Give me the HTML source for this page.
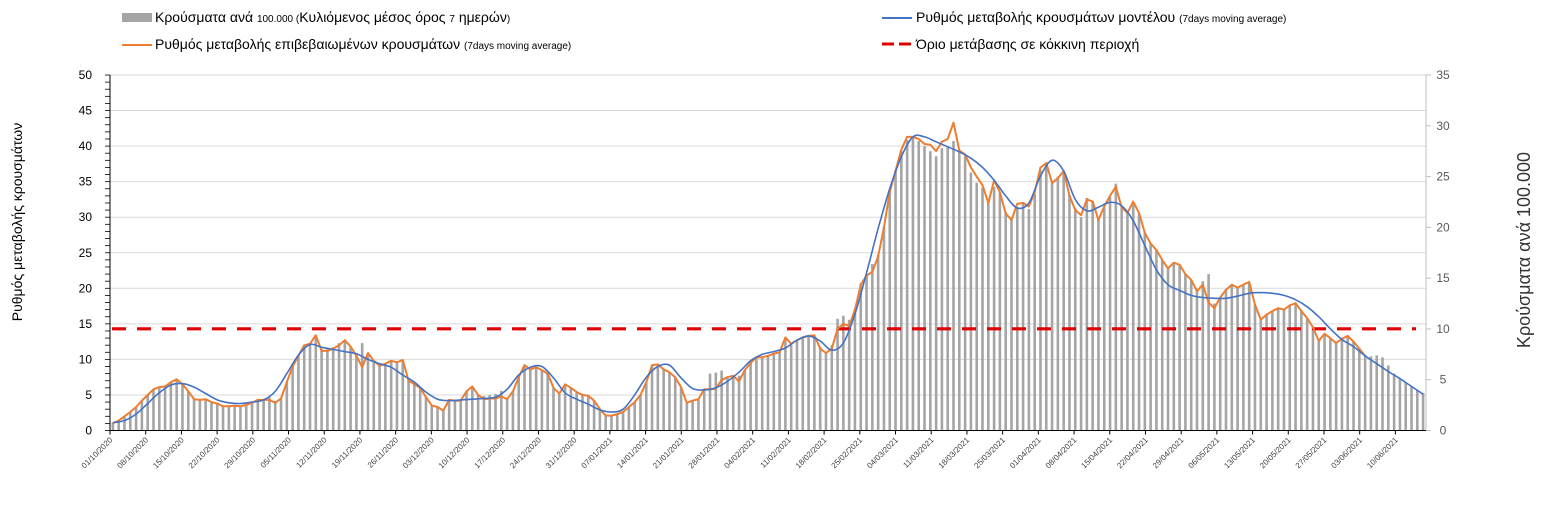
<!DOCTYPE html>
<html><head><meta charset="utf-8">
<style>
html,body{margin:0;padding:0;background:#fff;}
body{width:1547px;height:515px;overflow:hidden;font-family:"Liberation Sans Narrow","Liberation Sans","Noto Sans CJK SC",sans-serif;}
svg{display:block}
</style></head>
<body>
<svg id="chart" width="1547" height="515" viewBox="0 0 1547 515">
  <g id="legend" font-size="14" fill="#000">
    <g>
      <rect x="122" y="13" width="30" height="9" fill="#A5A5A5"/>
      <text x="155" y="22">Κρούσματα ανά <tspan font-size="10">100.000 (</tspan>Κυλιόμενος μέσος όρος <tspan font-size="10">7</tspan> ημερών<tspan font-size="10">)</tspan></text>
    </g>
    <g>
      <line x1="122" y1="45" x2="152" y2="45" stroke="#ED7D31" stroke-width="2"/>
      <text x="155" y="49">Ρυθμός μεταβολής επιβεβαιωμένων κρουσμάτων <tspan font-size="10">(7days moving average)</tspan></text>
    </g>
    <g>
      <line x1="882" y1="18" x2="912" y2="18" stroke="#4472C4" stroke-width="2"/>
      <text x="916" y="22">Ρυθμός μεταβολής κρουσμάτων μοντέλου <tspan font-size="10">(7days moving average)</tspan></text>
    </g>
    <g>
      <line x1="882" y1="44" x2="914" y2="44" stroke="#E00000" stroke-width="3" stroke-dasharray="12,5"/>
      <text x="916" y="49">Όριο μετάβασης σε κόκκινη περιοχή</text>
    </g>
  </g>
  <text transform="translate(22,222) rotate(-90)" text-anchor="middle" font-size="14" fill="#000">Ρυθμός μεταβολής κρουσμάτων</text>
  <text transform="translate(1530,250) rotate(-90)" text-anchor="middle" font-size="18" fill="#333" font-family="Liberation Sans, sans-serif">Κρούσματα ανά 100.000</text>
  <g id="grid"></g>
  <g id="bars"></g>
  <g id="lines"></g>
  <g id="axes"></g>
</svg>
<script>
const categoryCount = 227;
const tickLabels = ["01/10/2020","08/10/2020","15/10/2020","22/10/2020","29/10/2020","05/11/2020","12/11/2020","19/11/2020","26/11/2020","03/12/2020","10/12/2020","17/12/2020","24/12/2020","31/12/2020","07/01/2021","14/01/2021","21/01/2021","28/01/2021","04/02/2021","11/02/2021","18/02/2021","25/02/2021","04/03/2021","11/03/2021","18/03/2021","25/03/2021","01/04/2021","08/04/2021","15/04/2021","22/04/2021","29/04/2021","06/05/2021","13/05/2021","20/05/2021","27/05/2021","03/06/2021","10/06/2021"];
const leftTicks = [0,5,10,15,20,25,30,35,40,45,50];
const rightTicks = [0,5,10,15,20,25,30,35];
const thresholdValue = 14.3;
const casesPer100k = [0.8,1.0,1.3,1.8,2.3,2.9,3.5,4.0,4.3,4.4,
4.7,4.9,4.6,3.9,3.1,3.0,3.1,2.8,2.7,2.4,
2.4,2.5,2.4,2.5,2.7,3.0,3.1,3.3,2.9,3.2,
4.8,6.3,7.4,8.4,8.6,9.2,8.0,8.0,8.2,8.6,
8.8,8.2,7.5,8.6,7.6,6.9,6.5,6.6,6.8,6.7,
6.9,5.0,4.6,4.2,3.3,2.5,2.3,2.0,3.0,3.0,
3.0,3.9,4.3,3.5,3.4,3.5,3.6,3.9,3.2,3.9,
5.3,6.4,6.1,6.2,6.0,5.6,4.2,3.7,4.5,4.2,
3.8,3.5,3.4,3.0,2.1,1.5,1.5,1.6,1.8,2.3,
2.8,3.5,4.8,6.4,6.5,6.0,5.7,5.3,4.3,2.7,
3.0,3.1,4.1,5.6,5.7,5.9,5.2,5.3,5.4,6.0,
6.7,7.2,7.2,7.4,7.6,7.7,9.1,8.6,8.9,9.2,
9.3,9.3,8.2,7.7,8.4,11.0,11.3,10.9,12.0,14.5,
15.3,16.4,17.3,20.0,23.4,25.6,27.5,28.6,29.0,28.5,
28.0,27.5,27.0,27.8,28.0,28.5,27.4,27.0,25.4,24.4,
23.9,22.6,24.0,23.4,21.5,20.8,22.0,22.5,21.8,23.3,
25.6,26.4,24.4,25.0,25.6,23.2,21.9,21.0,22.9,22.6,
20.8,22.0,23.0,24.3,22.0,21.5,22.5,21.4,19.5,18.4,
17.8,16.8,16.0,16.5,16.2,15.4,14.8,13.8,14.7,15.4,
12.5,13.1,13.9,14.3,14.1,14.4,14.5,12.4,11.0,11.5,
11.8,12.0,11.9,12.4,12.6,11.8,11.0,10.2,8.8,9.5,
9.1,8.6,9.0,9.3,8.8,8.1,7.4,7.3,7.4,7.2,
6.4,5.6,5.1,4.7,4.3,4.0,3.7];
const confirmedRate = [1.0,1.4,2.0,2.6,3.3,4.2,5.0,5.8,6.1,6.2,
6.8,7.2,6.5,5.5,4.4,4.3,4.4,4.0,3.8,3.4,
3.4,3.5,3.4,3.6,3.9,4.3,4.3,4.3,3.9,4.5,
6.8,9.0,10.5,12.0,12.2,13.4,11.2,11.2,11.5,12.0,
12.7,11.8,10.5,8.9,10.9,9.8,9.1,9.4,9.8,9.6,
9.9,7.0,6.5,6.0,4.7,3.5,3.3,2.8,4.3,4.2,
4.2,5.5,6.2,5.0,4.4,4.5,4.5,4.8,4.4,5.5,
7.5,9.2,8.6,8.9,8.5,8.0,6.0,5.2,6.5,6.0,
5.4,5.0,4.9,4.2,3.0,2.1,2.1,2.3,2.6,3.3,
4.0,5.0,6.8,9.2,9.3,8.6,8.2,7.5,6.1,3.9,
4.2,4.4,5.8,5.8,5.9,7.1,7.5,7.7,6.9,8.5,
9.5,10.3,10.3,10.5,10.8,11.0,13.1,12.2,12.7,13.1,
13.3,13.4,11.5,10.9,11.5,14.3,15.0,14.7,17.0,20.5,
21.8,22.3,24.5,28.5,33.5,36.5,39.5,41.3,41.3,41.0,
40.3,40.2,39.3,40.6,41.0,43.3,39.4,38.8,37.0,35.7,
34.5,32.0,35.2,33.5,30.5,29.6,31.9,32.0,31.5,33.5,
37.0,37.6,34.8,35.5,36.5,33.0,31.0,30.3,32.5,32.2,
29.6,31.5,33.0,34.3,31.4,30.6,32.2,30.6,27.8,26.3,
25.4,24.0,22.8,23.6,23.3,22.0,21.2,19.6,20.5,18.0,
17.2,18.7,19.8,20.5,20.1,20.5,20.9,17.7,15.6,16.3,
16.8,17.2,17.0,17.6,17.9,16.8,15.8,14.5,12.6,13.6,
13.0,12.3,12.9,13.3,12.5,11.5,10.5];
const modelStep = 2;
const modelRate = [1.1,1.4,2.3,3.8,5.3,6.4,6.6,6.1,5.2,4.3,3.9,3.8,4.0,4.3,5.5,8.0,10.6,12.1,11.7,11.4,
11.1,10.8,10.0,9.4,8.9,7.8,6.8,5.4,4.4,4.2,4.3,4.4,4.5,4.7,5.8,7.8,8.9,9.0,7.4,5.3,
4.4,3.7,2.9,2.6,3.0,5.0,7.5,9.0,9.2,7.4,5.9,5.7,6.0,6.9,8.2,9.8,10.7,11.1,11.6,12.7,
13.3,12.6,11.3,12.3,16.4,22.2,28.4,34.0,38.5,41.3,41.3,40.6,39.9,39.2,38.3,37.0,35.2,33.0,31.3,32.0,
35.8,38.0,36.5,32.5,30.9,31.4,32.1,31.6,29.5,26.0,22.6,20.5,19.7,19.0,18.7,18.6,18.6,18.9,19.3,19.4,
19.3,19.0,18.4,17.4,16.0,14.3,12.8,11.8,10.5,9.4,8.3,7.3,6.2,5.1];

const NS = "http://www.w3.org/2000/svg";
const PL = 110, PR = 1426, PT = 75, PB = 430.5;
const xIdx = i => PL + (i + 0.5) * (PR - PL) / categoryCount;
const xTick = k => PL + k * 7 * (PR - PL) / 258;
const yL = v => PB - v * (PB - PT) / 50;
const yR = v => PB - v * (PB - PT) / 35;
function mk(tag, attrs, parent) {
  const e = document.createElementNS(NS, tag);
  for (const k in attrs) e.setAttribute(k, attrs[k]);
  parent.appendChild(e);
  return e;
}
const grid = document.getElementById('grid');
const bars = document.getElementById('bars');
const lines = document.getElementById('lines');
const axes = document.getElementById('axes');

leftTicks.forEach(v => {
  if (v === 0) return;
  const g = mk('line', {x1: PL, x2: PR, y1: yL(v), y2: yL(v), stroke: '#d9d9d9', 'stroke-width': 1}, grid);
  
  
});

casesPer100k.forEach((v, i) => {
  const r = mk('rect', {x: xIdx(i) - 1.3, y: yR(v), width: 2.6, height: PB - yR(v), fill: '#A5A5A5'}, bars);
  
  
});

const th = mk('line', {x1: 112, x2: 1416, y1: yL(thresholdValue), y2: yL(thresholdValue), stroke: '#E00000', 'stroke-width': 3.2, 'stroke-dasharray': '14,11'}, lines);



const op = mk('polyline', {points: confirmedRate.map((v, i) => xIdx(i).toFixed(1) + ',' + yL(v).toFixed(1)).join(' '), fill: 'none', stroke: '#ED7D31', 'stroke-width': 2, 'stroke-linejoin': 'round'}, lines);



const bp = modelRate.map((v, i) => [xIdx(i * modelStep), yL(v)]);
let d = 'M' + bp[0][0] + ',' + bp[0][1];
for (let i = 0; i < bp.length - 1; i++) {
  const p0 = bp[Math.max(0, i - 1)], p1 = bp[i], p2 = bp[i + 1], p3 = bp[Math.min(bp.length - 1, i + 2)];
  const c1x = p1[0] + (p2[0] - p0[0]) / 6, c1y = p1[1] + (p2[1] - p0[1]) / 6;
  const c2x = p2[0] - (p3[0] - p1[0]) / 6, c2y = p2[1] - (p3[1] - p1[1]) / 6;
  d += ' C' + c1x.toFixed(1) + ',' + c1y.toFixed(1) + ' ' + c2x.toFixed(1) + ',' + c2y.toFixed(1) + ' ' + p2[0].toFixed(1) + ',' + p2[1].toFixed(1);
}
const mp = mk('path', {d: d, fill: 'none', stroke: '#4472C4', 'stroke-width': 1.6}, lines);



const la = mk('line', {x1: PL, x2: PL, y1: PT, y2: PB, stroke: '#000', 'stroke-width': 1}, axes);


for (let v = 0; v <= 50; v++) {
  mk('line', {x1: PL - 5, x2: PL, y1: yL(v), y2: yL(v), stroke: '#000', 'stroke-width': 0.8}, axes);
}
leftTicks.forEach(v => {
  const t = mk('text', {x: 92, y: yL(v) + 4, 'text-anchor': 'end', 'font-size': 12, fill: '#000', 'font-family': 'Liberation Sans, sans-serif'}, axes);
  t.textContent = v;
  
  
});
const ra = mk('line', {x1: PR, x2: PR, y1: PT, y2: PB, stroke: '#bfbfbf', 'stroke-width': 1}, axes);


rightTicks.forEach(v => {
  mk('line', {x1: PR, x2: PR + 5, y1: yR(v), y2: yR(v), stroke: '#bfbfbf', 'stroke-width': 1}, axes);
  const t = mk('text', {x: 1443, y: yR(v) + 4, 'text-anchor': 'middle', 'font-size': 12, fill: '#595959', 'font-family': 'Liberation Sans, sans-serif'}, axes);
  t.textContent = v;
  
  
});
const xa = mk('line', {x1: PL, x2: PR, y1: PB, y2: PB, stroke: '#000', 'stroke-width': 1}, axes);


tickLabels.forEach((lab, k) => {
  const x = xTick(k);
  mk('line', {x1: x, x2: x, y1: PB, y2: PB + 4, stroke: '#000', 'stroke-width': 1}, axes);
  const t = mk('text', {x: 0, y: 0, 'text-anchor': 'end', 'font-size': 8, fill: '#404040', 'font-family': 'Liberation Sans, sans-serif', transform: 'translate(' + (x + 3) + ',' + (PB + 10) + ') rotate(-45)'}, axes);
  t.textContent = lab;
  
  
});
</script>
</body></html>
